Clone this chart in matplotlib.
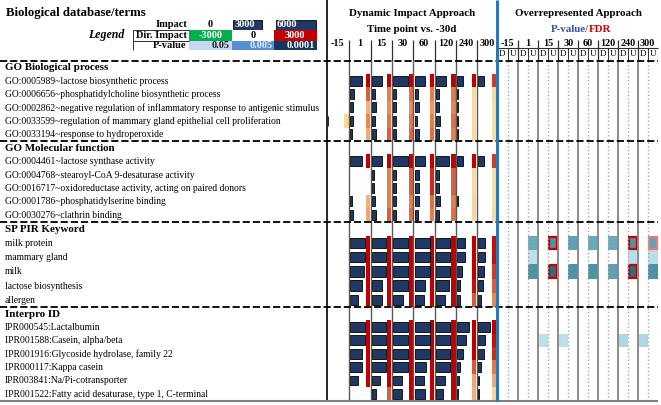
import numpy as np
import matplotlib
matplotlib.use('Agg')
import matplotlib.pyplot as plt
from matplotlib.colors import LinearSegmentedColormap, Normalize
from matplotlib.patches import Rectangle

plt.rcParams['font.family'] = ['Liberation Serif', 'DejaVu Serif']

nan = np.nan

# ---------------- data ----------------
time_points = ['-15', '1', '15', '30', '60', '120', '240', '300']
sections = ['GO Biological process', 'GO Molecular function', 'SP PIR Keyword', 'Interpro ID']

terms_bp = ['GO:0005989~lactose biosynthetic process',
            'GO:0006656~phosphatidylcholine biosynthetic process',
            'GO:0002862~negative regulation of inflammatory response to antigenic stimulus',
            'GO:0033599~regulation of mammary gland epithelial cell proliferation',
            'GO:0033194~response to hydroperoxide']
terms_mf = ['GO:0004461~lactose synthase activity',
            'GO:0004768~stearoyl-CoA 9-desaturase activity',
            'GO:0016717~oxidoreductase activity, acting on paired donors',
            'GO:0001786~phosphatidylserine binding',
            'GO:0030276~clathrin binding']
terms_sp = ['milk protein', 'mammary gland', 'milk', 'lactose biosynthesis', 'allergen']
terms_ipr = ['IPR000545:Lactalbumin',
             'IPR001588:Casein, alpha/beta',
             'IPR001916:Glycoside hydrolase, family 22',
             'IPR000117:Kappa casein',
             'IPR003841:Na/Pi-cotransporter',
             'IPR001522:Fatty acid desaturase, type 1, C-terminal']

# Impact per time point (-15 .. 300)
impact_bp = [[0, 4700, 4000, 5900, 4100, 4100, 2300, 2300],
             [0, 1600, 1100, 1100, 1300, 1200, 400, 0],
             [0, 1300, 1600, 1200, 1600, 1300, 400, 0],
             [300, 1300, 1300, 1200, 1100, 1500, 400, 0],
             [0, 700, 1600, 1300, 1700, 1200, 400, 0]]
impact_mf = [[0, 4700, 4000, 5900, 4100, 5100, 2300, 2300],
             [0, 0, 800, 1200, 1900, 1300, 0, 0],
             [0, 0, 800, 1200, 1900, 1300, 0, 0],
             [0, 800, 1300, 1200, 1900, 1500, 400, 0],
             [0, 1100, 1600, 1200, 1300, 1300, 0, 0]]
impact_sp = [[0, 6000, 5700, 5900, 6000, 5700, 3300, 2900],
             [0, 6000, 5700, 5900, 6000, 5700, 3300, 2900],
             [0, 5700, 5700, 5900, 6000, 5700, 2000, 2300],
             [0, 4900, 4000, 5900, 4100, 5100, 1300, 2000],
             [0, 3100, 4000, 4000, 3700, 3700, 1100, 1300]]
impact_ipr = [[0, 6000, 5700, 5900, 6000, 5700, 4700, 4900],
              [0, 6000, 5700, 5900, 6000, 5700, 3600, 2900],
              [0, 4700, 5700, 5900, 6000, 5700, 2300, 2300],
              [0, 4900, 5700, 5900, 4400, 5700, 1100, 1200],
              [0, 3100, 3300, 3600, 3700, 3700, 800, 400],
              [0, 0, 1600, 3600, 4100, 2800, 400, 400]]

# Directional impact per time point
dir_bp = [[nan, 3000, 3000, 3000, 3000, 3000, 3000, 2600],
          [nan, 2300, 1900, 2100, 1900, 2000, 300, 300],
          [nan, 1100, 1700, 1700, 1500, 1800, 300, 200],
          [300, 1800, 2000, 2000, 1900, 2100, 300, 200],
          [nan, 1200, 2300, 2200, 2100, 1900, 300, 200]]
dir_mf = [[nan, 3000, 3000, 3000, 3000, 3000, 3000, 2600],
          [nan, nan, 1900, 2300, 2700, 2300, 300, 200],
          [nan, nan, 1900, 2300, 2700, 2300, 300, 200],
          [nan, 1100, 1900, 1900, 2100, 1900, 400, 200],
          [nan, 1300, 2300, 2100, 1900, 2100, 400, 300]]
dir_sp = [[nan, 3000, 3000, 3000, 3000, 3000, 3000, 2900],
          [nan, 3000, 3000, 3000, 3000, 3000, 3000, 2900],
          [nan, 3000, 3000, 3000, 3000, 3000, 3000, 2600],
          [nan, 3000, 3000, 3000, 3000, 3000, 2900, 2300],
          [nan, 3000, 3000, 3000, 3000, 3000, 2400, 1800]]
dir_ipr = [[nan, 3000, 3000, 3000, 3000, 3000, 3000, 3000],
           [nan, 3000, 3000, 3000, 3000, 3000, 3000, 2900],
           [nan, 3000, 3000, 3000, 3000, 3000, 3000, 2700],
           [nan, 3000, 3000, 3000, 3000, 3000, 2400, 2000],
           [nan, 3000, 3000, 3000, 3000, 3000, 1300, 1200],
           [nan, nan, 2300, 3000, 3000, 3000, 1100, 400]]

# Overrepresented approach (term, time point, D/U, P-value, FDR)
ora_term = ['milk protein'] * 7 + ['mammary gland'] * 3 + ['milk'] * 7 + ['IPR001588:Casein, alpha/beta'] * 4
ora_time = ['1', '15', '30', '60', '120', '240', '300',
            '1', '240', '300',
            '1', '15', '30', '60', '120', '240', '300',
            '15', '30', '240', '300']
ora_side = ['U'] * 17 + ['D'] * 4
ora_p = [0.003, 0.001, 0.002, 0.003, 0.003, 0.001, 0.002,
         0.04, 0.035, 0.035,
         0.001, 0.0002, 0.001, 0.001, 0.002, 0.0002, 0.001,
         0.04, 0.04, 0.025, 0.025]
ora_fdr = [nan, 0.02, nan, nan, nan, 0.02, 0.09,
           nan, nan, nan,
           nan, 0.01, nan, nan, nan, 0.01, nan,
           nan, nan, nan, nan]

legend_impact = [0, 3000, 6000]
legend_dir = [-3000, 0, 3000]
legend_p = ['0.05', '0.005', '0.0001']

# ---------------- styling ----------------
NAVY = '#1f3864'
strip_cmap = LinearSegmentedColormap.from_list(
    'strip', [(0, '#fde9a9'), (0.35, '#f4b183'), (0.6, '#e8894f'), (0.8, '#d45a3a'), (1, '#c00000')])
strip_norm = Normalize(0, 3000)
p_cmap = LinearSegmentedColormap.from_list(
    'pv', [(0, '#c6e4ee'), (0.15, '#a5d3e1'), (0.45, '#6aaabb'), (0.65, '#4b8fa3'), (0.9, '#2b6b80'), (1, '#1f5a6e')])
p_norm = Normalize(-np.log10(0.05), 4)
dir_cmap = LinearSegmentedColormap.from_list('dir', ['#00b050', '#ffffff', '#c00000'])
dir_norm = Normalize(-3000, 3000)
legend_p_colors = ['#c6d9f1', '#558ed5', '#17375e']

fig = plt.figure(figsize=(6.61, 4.05), dpi=100)
ax = fig.add_axes([0, 0, 1, 1])
ax.set_xlim(0, 661)
ax.set_ylim(405, 0)
ax.axis('off')

sec_bounds = [60.5, 141, 221.5, 307, 400.5]
dyn_edges = [326.5, 349, 370.6, 391.8, 413.3, 434.6, 456, 476.8, 497]
ora_edges = [497.3, 517.7, 538.2, 558.3, 578.3, 597.9, 617.8, 637.8, 657.5]
ora_mids = [(a + b) / 2 for a, b in zip(ora_edges[:-1], ora_edges[1:])]
px_per_impact = 15 / 6000

all_terms = [terms_bp, terms_mf, terms_sp, terms_ipr]
all_imp = [impact_bp, impact_mf, impact_sp, impact_ipr]
all_dir = [dir_bp, dir_mf, dir_sp, dir_ipr]
row_pos = {}

for s in range(4):
    b0, b1 = sec_bounds[s], sec_bounds[s + 1]
    terms = all_terms[s]
    h = (b1 - b0) / (len(terms) + 1)
    ax.text(5, b0 + h / 2 + 0.5, sections[s], fontsize=7.9, fontweight='bold', va='center')
    yc = np.array([b0 + h * (i + 1.5) for i in range(len(terms))])
    for t, y in zip(terms, yc):
        ax.text(5, y + 0.5, t, fontsize=6.9, va='center')
        row_pos[t] = (y, h)
    imp = np.array(all_imp[s], dtype=float)
    dv = np.array(all_dir[s], dtype=float)
    for j in range(len(time_points)):
        w = imp[:, j] * px_per_impact
        m = w > 0
        if m.any():
            ax.barh(yc[m], w[m], left=dyn_edges[j] + 1.2, height=h * 0.74,
                    color=NAVY, edgecolor='black', linewidth=0.6, zorder=3)
        d = dv[:, j]
        m2 = ~np.isnan(d)
        if m2.any():
            ax.barh(yc[m2], 4.3, left=dyn_edges[j + 1] - 4.8, height=h,
                    color=strip_cmap(strip_norm(d[m2])), linewidth=0, zorder=2)

# overrepresented cells
for term, tp, side, p, f in zip(ora_term, ora_time, ora_side, ora_p, ora_fdr):
    j = time_points.index(tp)
    y, h = row_pos[term]
    if side == 'D':
        x0, x1 = ora_edges[j], ora_mids[j]
    else:
        x0, x1 = ora_mids[j], ora_edges[j + 1]
    ax.bar(x0, h, width=x1 - x0, bottom=y - h / 2, align='edge',
           color=p_cmap(p_norm(-np.log10(p))), linewidth=0, zorder=2)
    if not np.isnan(f):
        ec = '#c00000' if f < 0.05 else '#f07878'
        ax.add_patch(Rectangle((x0 + 0.9, y - h / 2 + 0.9), x1 - x0 - 1.8, h - 1.8,
                               fill=False, edgecolor=ec, linewidth=1.6, zorder=4))

# ---------------- grid lines ----------------
dash = (0, (4, 1.6))
ax.hlines(sec_bounds[:-1], 0, 657.5, colors='black', linewidth=1.3, linestyles=dash, zorder=6)
ax.hlines(sec_bounds[-1], 0, 657.5, colors='#7f7f7f', linewidth=1.5, zorder=6)
ax.vlines(326.5, 0, 400.5, colors='black', linewidth=1.2, zorder=5)
ax.vlines(dyn_edges[1:-1], 40, 60.5, colors='#303030', linewidth=0.9, zorder=5)
ax.vlines(dyn_edges[1:-1], 60.5, 400.5, colors='#595959', linewidth=1.0, zorder=5)
ax.vlines(ora_edges[1:-1], 40, 60.5, colors='#303030', linewidth=0.9, zorder=5)
ax.vlines(ora_edges[1:-1], 60.5, 400.5, colors='#8a8a8a', linewidth=1.4, zorder=5)
ax.vlines(ora_mids, 48.3, 60.5, colors='#303030', linewidth=0.7, zorder=5)
ax.vlines(ora_mids, 60.5, 400.5, colors='#a8a8a8', linewidth=1.0, linestyles=':', zorder=5)
ax.hlines(48.3, 497, 657.5, colors='#303030', linewidth=0.8, zorder=5)
ax.vlines(497, 0, 400.5, colors='#2e75b6', linewidth=2.2, zorder=7)

# ---------------- header ----------------
ax.text(6, 13, 'Biological database/terms', fontsize=9.2, fontweight='bold', va='center')
ax.text(412, 14, 'Dynamic Impact Approach', fontsize=7.8, fontweight='bold', ha='center', va='center')
ax.text(412, 29.5, 'Time point vs. -30d', fontsize=7.8, fontweight='bold', ha='center', va='center')
ax.text(578, 14, 'Overrepresented Approach', fontsize=7.8, fontweight='bold', ha='center', va='center')
ax.text(589, 29.5, 'P-value/', fontsize=7.8, fontweight='bold', ha='right', va='center', color='#2f4f9f')
ax.text(589, 29.5, 'FDR', fontsize=7.8, fontweight='bold', ha='left', va='center', color='#c00000')
for j, tp in enumerate(time_points):
    ax.text((dyn_edges[j] + dyn_edges[j + 1]) / 2, 43.5, tp, fontsize=7.3, fontweight='bold',
            ha='center', va='center')
    ax.text((ora_edges[j] + ora_edges[j + 1]) / 2, 43.5, tp, fontsize=7.3, fontweight='bold',
            ha='center', va='center')
    ax.text((ora_edges[j] + ora_mids[j]) / 2, 54.5, 'D', fontsize=6.5, ha='center', va='center')
    ax.text((ora_mids[j] + ora_edges[j + 1]) / 2, 54.5, 'U', fontsize=6.5, ha='center', va='center')

# legend table
cx = [189, 231.5, 274, 316.5]
ry = [19.5, 30, 40.5, 50.3]
ax.text(187, 24.5, 'Impact', fontsize=7.5, fontweight='bold', ha='right', va='center')
ax.text(187, 35.2, 'Dir. Impact', fontsize=7.5, fontweight='bold', ha='right', va='center')
ax.text(186, 45.5, 'P-value', fontsize=7.5, fontweight='bold', ha='right', va='center')
ax.text(124, 35.2, 'Legend', fontsize=8.6, fontweight='bold', style='italic', ha='right', va='center')
ax.hlines([30, 40.5], 133, 189, colors='#303030', linewidth=0.7)
ax.vlines(132.5, 30, 50.3, colors='#303030', linewidth=0.7)
for k in range(3):
    v = legend_impact[k]
    if v > 0:
        wl = 18 + v * 11 / 3000
        ax.barh((ry[0] + ry[1]) / 2, wl, left=cx[k] + 1.5, height=ry[1] - ry[0] - 0.6,
                color=NAVY, edgecolor='black', linewidth=0.6)
        ax.text(cx[k] + 3, (ry[0] + ry[1]) / 2, str(v), fontsize=7.5, fontweight='bold',
                color='white', ha='left', va='center')
    else:
        ax.text((cx[k] + cx[k + 1]) / 2, (ry[0] + ry[1]) / 2, str(v), fontsize=7.5,
                fontweight='bold', ha='center', va='center')
    dvv = legend_dir[k]
    ax.bar(cx[k], ry[2] - ry[1], width=cx[k + 1] - cx[k], bottom=ry[1], align='edge',
           color=dir_cmap(dir_norm(dvv)), linewidth=0)
    ax.text((cx[k] + cx[k + 1]) / 2, (ry[1] + ry[2]) / 2, str(dvv), fontsize=7.5, fontweight='bold',
            color='black' if dvv == 0 else 'white', ha='center', va='center')
    ax.bar(cx[k], ry[3] - ry[2], width=cx[k + 1] - cx[k], bottom=ry[2], align='edge',
           color=legend_p_colors[k], linewidth=0)
    ax.text(cx[k + 1] - 1.5, (ry[2] + ry[3]) / 2, legend_p[k], fontsize=7.5, fontweight='bold',
            color='white' if k == 2 else ('#1a1a1a' if k == 0 else '#e8eef8'), ha='right', va='center')

fig.savefig('out.png', dpi=100)
